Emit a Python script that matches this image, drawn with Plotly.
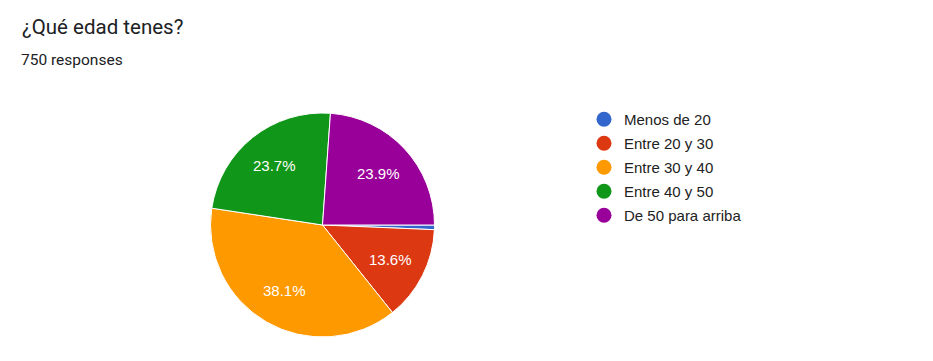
import math
import plotly.graph_objects as go

categories = ["Menos de 20", "Entre 20 y 30", "Entre 30 y 40", "Entre 40 y 50", "De 50 para arriba"]
counts = [5, 102, 286, 178, 179]
colors = ["#3366cc", "#dc3912", "#ff9900", "#109618", "#990099"]
title_text = "¿Qué edad tenes?"
subtitle_text = "750 responses"

W, H = 933, 361
OFF = 8  # page body margin
cx, cy, r = 322.5 - OFF, 225 - OFF, 112

def px(x):
    return x / W

def py(y):
    return (H - y) / H

total = sum(counts)

fig = go.Figure()
fig.add_trace(go.Pie(
    labels=categories, values=counts, sort=False, direction="clockwise", rotation=90,
    marker=dict(colors=colors, line=dict(color="white", width=1)),
    textinfo="none",
    domain=dict(x=[px(cx - r), px(cx + r)], y=[py(cy + r), py(cy - r)]),
    showlegend=False, hoverinfo="label+percent",
))

# slice labels at mid-angle, ~0.68 of the radius (as Google Charts does)
annotations = []
cum = 0
for c in counts:
    frac = c / total
    mid = (cum + frac / 2) * 2 * math.pi  # clockwise from 3 o'clock
    cum += frac
    if frac < 0.05:
        continue
    lx = cx + 0.68 * r * math.cos(mid)
    ly = cy + 0.68 * r * math.sin(mid)
    annotations.append(dict(text=f"{100 * frac:.1f}%", x=px(lx), y=py(ly), xref="paper", yref="paper",
                            xanchor="center", yanchor="middle", showarrow=False,
                            font=dict(family="Liberation Sans, Arial", size=15, color="white")))

for name, col in zip(categories, colors):
    fig.add_trace(go.Scatter(x=[None], y=[None], mode="markers", name=name, legendgroup=name,
                             marker=dict(color=col, size=15, symbol="circle")))

annotations += [
    dict(text=title_text, x=px(20 - OFF), y=py(27 - OFF), xref="paper", yref="paper",
         xanchor="left", yanchor="middle", showarrow=False,
         font=dict(family="Roboto", size=20.5, color="#202124")),
    dict(text=subtitle_text, x=px(19 - OFF), y=py(60 - OFF), xref="paper", yref="paper",
         xanchor="left", yanchor="middle", showarrow=False,
         font=dict(family="Roboto", size=15.5, color="#202124")),
]

fig.update_layout(
    width=W, height=H, margin=dict(l=0, r=0, t=0, b=0),
    paper_bgcolor="white", plot_bgcolor="white",
    xaxis=dict(visible=False), yaxis=dict(visible=False),
    legend=dict(x=px(604 - 20 - OFF), y=py(103 - OFF), xanchor="left", yanchor="top",
                font=dict(family="Liberation Sans, Arial", size=15, color="#222222"),
                itemwidth=30, traceorder="grouped", tracegroupgap=1.5, bgcolor="rgba(0,0,0,0)"),
    annotations=annotations,
)
fig.write_html("out.html")
